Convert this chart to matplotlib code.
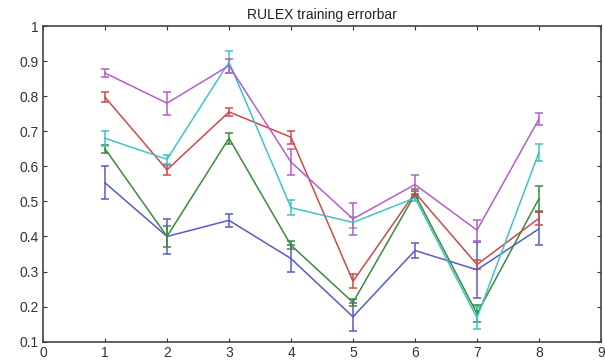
import matplotlib
matplotlib.use("Agg")
import matplotlib.pyplot as plt

x = [1, 2, 3, 4, 5, 6, 7, 8]

blue_mean = [0.553, 0.400, 0.446, 0.337, 0.171, 0.360, 0.305, 0.422]
blue_err = [0.047, 0.050, 0.018, 0.038, 0.040, 0.022, 0.080, 0.047]

green_mean = [0.650, 0.400, 0.680, 0.375, 0.212, 0.520, 0.180, 0.508]
green_err = [0.012, 0.030, 0.015, 0.012, 0.010, 0.010, 0.025, 0.035]

red_mean = [0.797, 0.590, 0.755, 0.683, 0.272, 0.525, 0.320, 0.452]
red_err = [0.015, 0.015, 0.012, 0.018, 0.020, 0.010, 0.012, 0.018]

cyan_mean = [0.680, 0.620, 0.897, 0.482, 0.440, 0.510, 0.168, 0.640]
cyan_err = [0.022, 0.012, 0.032, 0.022, 0.015, 0.010, 0.032, 0.025]

magenta_mean = [0.866, 0.780, 0.887, 0.612, 0.450, 0.548, 0.418, 0.735]
magenta_err = [0.012, 0.033, 0.020, 0.038, 0.045, 0.028, 0.030, 0.018]

series = [
    (blue_mean, blue_err, "#5a5ac8"),
    (green_mean, green_err, "#3c8a3c"),
    (red_mean, red_err, "#d04848"),
    (cyan_mean, cyan_err, "#40c4c4"),
    (magenta_mean, magenta_err, "#b45ec8"),
]

plt.rcParams['font.family'] = ['Liberation Sans', 'DejaVu Sans']

fig = plt.figure(figsize=(6.05, 3.61), dpi=100)
ax = fig.add_axes([43/605, 1 - 341.7/361, (601 - 43)/605, (341.7 - 26)/361])

for m, e, c in series:
    ax.errorbar(x, m, yerr=e, color=c, lw=1.1, elinewidth=1.1, capsize=3, capthick=1.1)

ax.set_xlim(0, 9)
ax.set_ylim(0.1, 1.0)
ax.set_xticks(range(0, 10))
ax.set_yticks([0.1, 0.2, 0.3, 0.4, 0.5, 0.6, 0.7, 0.8, 0.9, 1.0])
ax.set_yticklabels(["0.1", "0.2", "0.3", "0.4", "0.5", "0.6", "0.7", "0.8", "0.9", "1"])
ax.tick_params(direction='in', length=3, width=0.8, labelsize=10, top=True, right=True, pad=3, colors='#333333')
for s in ax.spines.values():
    s.set_linewidth(1.2)
    s.set_color('#444444')
ax.set_title("RULEX training errorbar", fontsize=10, pad=5, color='#222222')

fig.savefig("out.png", dpi=100)
